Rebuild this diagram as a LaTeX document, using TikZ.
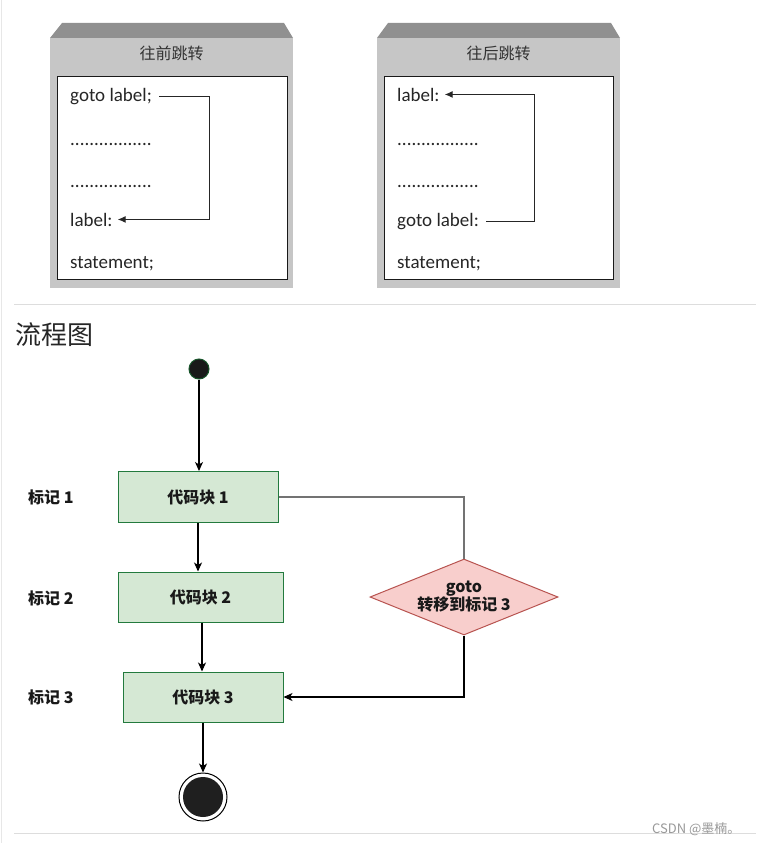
\documentclass[tikz,border=0pt]{standalone}
\usepackage{fontspec}
\setmainfont{Carlito}
\newfontfamily\cjk{Noto Sans CJK SC}
\usetikzlibrary{arrows.meta,shapes.geometric}
\definecolor{framedark}{HTML}{909090}
\definecolor{framelight}{HTML}{C6C6C6}
\definecolor{gfill}{HTML}{D5E8D4}
\definecolor{gdraw}{HTML}{237A3E}
\definecolor{rfill}{HTML}{F8CECC}
\definecolor{rdraw}{HTML}{B85450}
\definecolor{sepcol}{HTML}{DDDDDD}
\tikzset{
  codetxt/.style={anchor=base west,inner sep=0pt,text=black!85,font=\fontsize{19}{22}\selectfont},
  ttl/.style={inner sep=0pt,text=black!80,font=\cjk\fontsize{16}{19}\selectfont},
  innerbox/.style={fill=white,draw=black!90,line width=1pt},
  tarrow/.style={draw=black!85,line width=1pt,-{Latex[length=8pt,width=7pt]}},
  blk/.style={rectangle,fill=gfill,draw=gdraw,line width=1pt,font=\cjk\bfseries\fontsize{16}{19}\selectfont,text=black!90},
  marklbl/.style={anchor=west,inner sep=0pt,font=\cjk\bfseries\fontsize{16}{19}\selectfont,text=black!90},
  farrow/.style={draw=black,line width=1.1pt,-{Stealth[length=9pt,width=8pt,inset=2.5pt]}},
}
\begin{document}
\begin{tikzpicture}[x=1pt,y=-1pt]
\useasboundingbox (0,0) rectangle (756,843);
\fill[white] (0,0) rectangle (756,843);
\draw[sepcol!70,line width=1pt] (1.5,0) -- (1.5,843);

% ---- left frame ----
\fill[framelight] (50,38) rectangle (293,288);
\fill[framedark] (62,23) -- (284,23) -- (293,38) -- (50,38) -- cycle;
\node[ttl] (t1) at (171.5,53) {往前跳转};
\draw[innerbox] (57,76) rectangle (287,279);
\node[codetxt] (gl1) at (70,101) {goto label;};
\node[codetxt] (d11) at (70,145) {.................};
\node[codetxt] (d12) at (70,187) {.................};
\node[codetxt] (lb1) at (70,226) {label:};
\node[codetxt] (st1) at (70,268) {statement;};
\draw[tarrow] ([xshift=7pt]gl1.east) -- ++(50,0) |- ([xshift=5pt]lb1.east);

% ---- right frame ----
\fill[framelight] (377,38) rectangle (620,288);
\fill[framedark] (388,23) -- (611,23) -- (620,38) -- (377,38) -- cycle;
\node[ttl] (t2) at (498.5,53) {往后跳转};
\draw[innerbox] (384,76) rectangle (613,279);
\node[codetxt] (lb2) at (397,101) {label:};
\node[codetxt] (d21) at (397,145) {.................};
\node[codetxt] (d22) at (397,187) {.................};
\node[codetxt] (gl2) at (397,226) {goto label:};
\node[codetxt] (st2) at (397,268) {statement;};
\draw[tarrow] ([xshift=7pt]gl2.east) -- ++(48,0) |- ([xshift=5pt]lb2.east);

% ---- separators ----
\draw[sepcol,line width=1pt] (14,304) -- (756,304);
\draw[sepcol,line width=1pt] (14,833) -- (756,833);

\node[anchor=west,inner sep=0pt,text=black!85,font=\cjk\fontsize{26}{30}\selectfont] (fc) at (15,335) {流程图};

% ---- flowchart ----
\node[circle,fill=black!90,draw=gdraw!70!black,line width=1pt,minimum size=20pt,inner sep=0pt] (s) at (199,369) {};
\node[blk,minimum width=160pt,minimum height=51pt] (b1) at (198,497) {代码块 1};
\node[blk,minimum width=165pt,minimum height=50pt] (b2) at (200.5,597) {代码块 2};
\node[blk,minimum width=160pt,minimum height=50pt] (b3) at (203,697) {代码块 3};
\node[marklbl] (m1) at (28,497) {标记 1};
\node[marklbl] (m2) at (28,598) {标记 2};
\node[marklbl] (m3) at (28,697) {标记 3};
\node[diamond,aspect=2.47,minimum width=188pt,minimum height=76pt,inner sep=0pt,fill=rfill,draw=rdraw,line width=1pt,align=center,font=\cjk\bfseries\fontsize{16}{18}\selectfont,text=black!90] (d) at (464,597) {goto\\转移到标记 3};
\node[circle,draw=black,fill=white,line width=1pt,minimum size=48pt,inner sep=0pt] (e) at (203,797) {};
\node[circle,fill=black!88,minimum size=40pt,inner sep=0pt] (ei) at (e) {};

\draw[farrow] (s) -- (s |- b1.north);
\draw[farrow] (b1.south) -- (b1.south |- b2.north);
\draw[farrow] ([xshift=1.5pt]b2.south) -- ([xshift=1.5pt]b2.south |- b3.north);
\draw[farrow] (b3.south) -- (e.north);
\draw[draw=black!55,line width=1.3pt] (b1.east) -| (d.north);
\draw[farrow] (d.south) |- (b3.east);

\node[anchor=west,inner sep=0pt,text=black!40,font=\cjk\fontsize{13}{15}\selectfont] (wm) at (652,829) {CSDN @墨楠。};
\end{tikzpicture}
\end{document}
